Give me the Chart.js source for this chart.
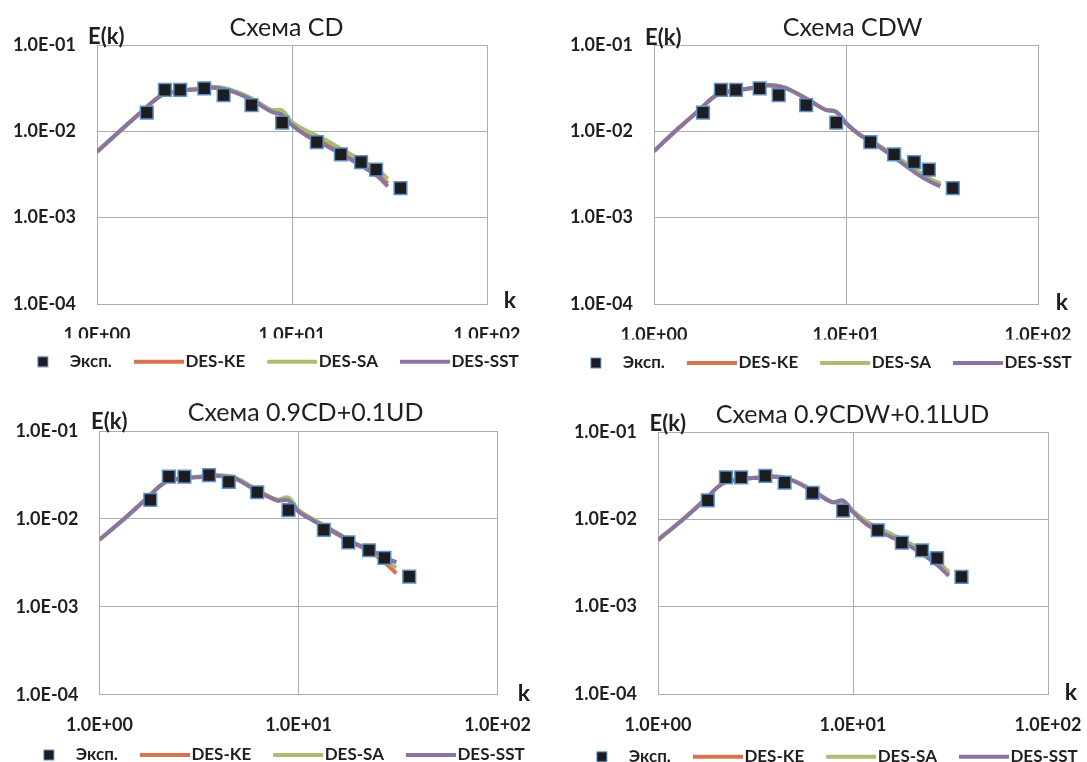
<!DOCTYPE html>
<html>
<head>
<meta charset="utf-8">
<script src="https://cdn.jsdelivr.net/npm/chart.js@4.4.1/dist/chart.umd.min.js"></script>
<style>
  html, body { margin: 0; padding: 0; background: #fff; overflow: hidden; width: 1087px; height: 762px; position: relative; }
  canvas { position: absolute; }
</style>
</head>
<body>
<script>
// measured spectrum, the same in every panel
const K_EXP = [1.8, 2.23, 2.67, 3.55, 4.46, 6.2, 8.9, 13.4, 17.8, 22.6, 27.0, 36.0];
const E_EXP = [0.0165, 0.0302, 0.0302, 0.0315, 0.0263, 0.0201, 0.0126, 0.0075, 0.0054, 0.0044, 0.0036, 0.0022];

// wave numbers where the DES curves were read
const K_SIM = [1, 1.35, 1.7, 2.15, 2.7, 3.3, 3.85, 4.7, 6.2, 7.8, 8.9, 10, 11.8, 14.5, 18.5, 23.5, 27.5, 31];

// Схема CD
const CD_KE  = [0.0058, 0.0107, 0.0170, 0.0262, 0.0295, 0.0310, 0.0325, 0.0305, 0.0236, 0.0173, 0.0162, 0.0122, 0.0095, 0.0076, 0.0055, 0.0040, 0.0032, 0.0025];
const CD_SA  = [0.0058, 0.0107, 0.0170, 0.0263, 0.0296, 0.0313, 0.0328, 0.0310, 0.0242, 0.0178, 0.0175, 0.0128, 0.0102, 0.0082, 0.0060, 0.0044, 0.0036, 0.0028];
const CD_SST = [0.0058, 0.0107, 0.0170, 0.0262, 0.0294, 0.0308, 0.0322, 0.0300, 0.0232, 0.0170, 0.0155, 0.0118, 0.0090, 0.0071, 0.0052, 0.0038, 0.0030, 0.0023];

// Схема CDW
const CDW_KE  = [0.0059, 0.0110, 0.0172, 0.0269, 0.0298, 0.0320, 0.0342, 0.0325, 0.0240, 0.0178, 0.0168, 0.0124, 0.0091, 0.0070, 0.0048, 0.0033, 0.0027, 0.0024];
const CDW_SA  = [0.0059, 0.0110, 0.0172, 0.0269, 0.0298, 0.0320, 0.0342, 0.0325, 0.0240, 0.0178, 0.0168, 0.0124, 0.0092, 0.0071, 0.0050, 0.0035, 0.0028, 0.0025];
const CDW_SST = [0.0059, 0.0110, 0.0172, 0.0269, 0.0298, 0.0320, 0.0342, 0.0325, 0.0240, 0.0178, 0.0168, 0.0124, 0.0091, 0.0069, 0.0047, 0.0032, 0.0026, 0.0023];

// Схема 0.9CD+0.1UD
const UD_KE  = [0.0058, 0.0103, 0.0165, 0.0263, 0.0291, 0.0302, 0.0310, 0.0295, 0.0210, 0.0163, 0.0168, 0.0123, 0.0097, 0.0074, 0.0054, 0.0041, 0.0031, 0.0024];
const UD_SA  = [0.0058, 0.0103, 0.0165, 0.0263, 0.0292, 0.0305, 0.0315, 0.0300, 0.0215, 0.0166, 0.0175, 0.0126, 0.0100, 0.0077, 0.0055, 0.0042, 0.0033, 0.0028];
const UD_SST = [0.0058, 0.0103, 0.0165, 0.0263, 0.0290, 0.0300, 0.0309, 0.0292, 0.0208, 0.0162, 0.0162, 0.0121, 0.0096, 0.0075, 0.0055, 0.0043, 0.0036, 0.0032];

// Схема 0.9CDW+0.1LUD
const LUD_KE  = [0.0058, 0.0101, 0.0160, 0.0258, 0.0290, 0.0301, 0.0310, 0.0290, 0.0214, 0.0158, 0.0160, 0.0123, 0.0090, 0.0071, 0.0055, 0.0040, 0.0030, 0.0024];
const LUD_SA  = [0.0058, 0.0101, 0.0160, 0.0258, 0.0291, 0.0303, 0.0312, 0.0293, 0.0216, 0.0159, 0.0158, 0.0125, 0.0094, 0.0074, 0.0057, 0.0042, 0.0032, 0.0025];
const LUD_SST = [0.0058, 0.0101, 0.0160, 0.0258, 0.0290, 0.0300, 0.0308, 0.0288, 0.0212, 0.0157, 0.0164, 0.0121, 0.0087, 0.0068, 0.0053, 0.0038, 0.0029, 0.00225];

const SERIES_NAMES = ['Эксп.', 'DES-KE', 'DES-SA', 'DES-SST'];
const PANEL_TITLES = ['Схема CD', 'Схема CDW', 'Схема 0.9CD+0.1UD', 'Схема 0.9CDW+0.1LUD'];
const X_TICKS = [1, 10, 100];
const X_TICK_LABELS = ['1.0E+00', '1.0E+01', '1.0E+02'];
const Y_TICKS = [1e-4, 1e-3, 1e-2, 1e-1];
const Y_TICK_LABELS = ['1.0E-04', '1.0E-03', '1.0E-02', '1.0E-01'];

const COLORS = {
    ke: '#D7734F',
    sa: '#A9BF6D',
    sst: '#8C74A0',
    mark: '#1d1d20',
    markEdge: '#5F90C8',
    grid: '#ADADAD',
    text: '#1f1f1f'
};
const FONT = 'Lato, "Open Sans", sans-serif';
const LEGEND_FONT = 17;
const LEGEND_PAD = 15;
const LEGEND_H = LEGEND_FONT + LEGEND_PAD + 10;
const CANVAS_W = 560;

// page placement: plot box [left, top, right, bottom], legend centre, label anchors
const PANELS = [
    { ke: CD_KE, sa: CD_SA, sst: CD_SST, top: 0,
      plot: [97, 45, 487, 304], legend: [264.5, 361.7], titleAt: [286.5, 27.5], ekAt: [88, 37], kAt: [510, 301] },
    { ke: CDW_KE, sa: CDW_SA, sst: CDW_SST, top: 0,
      plot: [654, 45, 1038, 304], legend: [817.5, 363], titleAt: [852.5, 28], ekAt: [645, 38], kAt: [1062, 303] },
    { ke: UD_KE, sa: UD_SA, sst: UD_SST, top: 381,
      plot: [99.5, 431, 498.5, 694.7], legend: [270.5, 755], titleAt: [305.6, 413], ekAt: [91, 421.5], kAt: [524, 694] },
    { ke: LUD_KE, sa: LUD_SA, sst: LUD_SST, top: 381,
      plot: [658, 432, 1048, 694], legend: [824.4, 756.7], titleAt: [852.5, 415], ekAt: [649.5, 424], kAt: [1071, 692.5] }
];

// legend icons: the line is shifted right so it runs up to the text
function legendIcon(kind, color) {
    const c = document.createElement('canvas');
    c.width = 64;
    c.height = 14;
    const g = c.getContext('2d');
    if (kind === 'mark') {
        g.fillStyle = COLORS.mark;
        g.fillRect(33.5, 2, 10, 10);
        g.strokeStyle = COLORS.markEdge;
        g.lineWidth = 1;
        g.strokeRect(33.5, 2, 10, 10);
    } else {
        g.strokeStyle = color;
        g.lineWidth = 4;
        g.beginPath();
        g.moveTo(14, 7);
        g.lineTo(64, 7);
        g.stroke();
    }
    return c;
}
const LEGEND_ICONS = [
    legendIcon('mark'),
    legendIcon('line', COLORS.ke),
    legendIcon('line', COLORS.sa),
    legendIcon('line', COLORS.sst)
];

const panelText = {
    id: 'panelText',
    afterDraw(chart, args, opts) {
        const ctx = chart.ctx;
        ctx.save();
        ctx.fillStyle = COLORS.text;
        ctx.textBaseline = 'middle';
        ctx.textAlign = 'center';
        ctx.font = `25px ${FONT}`;
        ctx.fillText(opts.title, opts.titleAt[0], opts.titleAt[1]);
        ctx.textAlign = 'left';
        ctx.font = `bold 22px ${FONT}`;
        ctx.fillText('E(k)', opts.ekAt[0], opts.ekAt[1]);
        ctx.textAlign = 'center';
        ctx.font = `bold 23px ${FONT}`;
        ctx.fillText('k', opts.kAt[0], opts.kAt[1]);
        ctx.restore();
    }
};

function pairs(xs, ys) {
    return xs.map((x, i) => ({ x: x, y: ys[i] }));
}

function curve(label, values, color, order) {
    return {
        label: label,
        data: pairs(K_SIM, values),
        showLine: true,
        borderColor: color,
        backgroundColor: color,
        borderWidth: 4,
        pointRadius: 0,
        tension: 0.35,
        order: order
    };
}

PANELS.forEach((p, i) => {
    const x0 = Math.round(p.legend[0] - CANVAS_W / 2);
    const y0 = p.top;
    const legendTop = p.legend[1] - LEGEND_PAD - LEGEND_FONT / 2;
    const H = Math.ceil(legendTop + LEGEND_H - y0);
    const [pl, pt, pr, pb] = p.plot;

    const canvas = document.createElement('canvas');
    canvas.width = CANVAS_W;
    canvas.height = H;
    canvas.style.left = x0 + 'px';
    canvas.style.top = y0 + 'px';
    canvas.style.width = CANVAS_W + 'px';
    canvas.style.height = H + 'px';
    document.body.appendChild(canvas);

    const tickFont = { family: FONT, size: 18, weight: 'bold' };

    new Chart(canvas.getContext('2d'), {
        type: 'scatter',
        data: {
            datasets: [
                {
                    label: SERIES_NAMES[0],
                    data: pairs(K_EXP, E_EXP),
                    pointStyle: 'rect',
                    pointRadius: 9,
                    backgroundColor: COLORS.mark,
                    borderColor: COLORS.markEdge,
                    borderWidth: 1.5,
                    order: 0
                },
                curve(SERIES_NAMES[1], p.ke, COLORS.ke, 3),
                curve(SERIES_NAMES[2], p.sa, COLORS.sa, 2),
                curve(SERIES_NAMES[3], p.sst, COLORS.sst, 1)
            ]
        },
        options: {
            responsive: false,
            animation: false,
            devicePixelRatio: 1,
            events: [],
            layout: {
                padding: { left: 0, right: 0, top: pt - y0, bottom: H - (legendTop + LEGEND_H - y0) }
            },
            scales: {
                x: {
                    type: 'logarithmic',
                    min: 1,
                    max: 100,
                    afterBuildTicks: (axis) => { axis.ticks = X_TICKS.map(v => ({ value: v })); },
                    afterFit: (scale) => { scale.height = legendTop - pb; },
                    ticks: {
                        callback: (v, idx) => X_TICK_LABELS[idx],
                        font: tickFont,
                        color: COLORS.text,
                        padding: 20,
                        autoSkip: false,
                        maxRotation: 0
                    },
                    grid: { color: COLORS.grid, lineWidth: 1, drawTicks: false },
                    border: { color: COLORS.grid, width: 1 }
                },
                y: {
                    type: 'logarithmic',
                    min: 1e-4,
                    max: 1e-1,
                    afterBuildTicks: (axis) => { axis.ticks = Y_TICKS.map(v => ({ value: v })); },
                    afterFit: (scale) => { scale.width = pl - x0; },
                    ticks: {
                        callback: (v, idx) => Y_TICK_LABELS[idx],
                        font: tickFont,
                        color: COLORS.text,
                        padding: 21,
                        autoSkip: false
                    },
                    grid: { color: COLORS.grid, lineWidth: 1, drawTicks: false },
                    border: { color: COLORS.grid, width: 1 }
                },
                // empty right axis, keeps room right of the plot so the legend can be wider
                pad: {
                    type: 'linear',
                    position: 'right',
                    display: true,
                    grid: { display: false },
                    border: { display: false },
                    ticks: { display: false },
                    afterFit: (scale) => { scale.width = x0 + CANVAS_W - pr; }
                }
            },
            plugins: {
                title: { display: false },
                tooltip: { enabled: false },
                legend: {
                    display: true,
                    position: 'bottom',
                    align: 'center',
                    labels: {
                        usePointStyle: true,
                        pointStyleWidth: 50,
                        padding: LEGEND_PAD,
                        color: COLORS.text,
                        font: { family: FONT, size: LEGEND_FONT, weight: 'bold' },
                        sort: (a, b) => a.datasetIndex - b.datasetIndex,
                        generateLabels: (chart) => {
                            const items = Chart.defaults.plugins.legend.labels.generateLabels(chart);
                            items.forEach(it => { it.pointStyle = LEGEND_ICONS[it.datasetIndex]; });
                            return items;
                        }
                    }
                },
                panelText: {
                    title: PANEL_TITLES[i],
                    titleAt: [p.titleAt[0] - x0, p.titleAt[1] - y0],
                    ekAt: [p.ekAt[0] - x0, p.ekAt[1] - y0],
                    kAt: [p.kAt[0] - x0, p.kAt[1] - y0]
                }
            }
        },
        plugins: [panelText]
    });
});
</script>
</body>
</html>
